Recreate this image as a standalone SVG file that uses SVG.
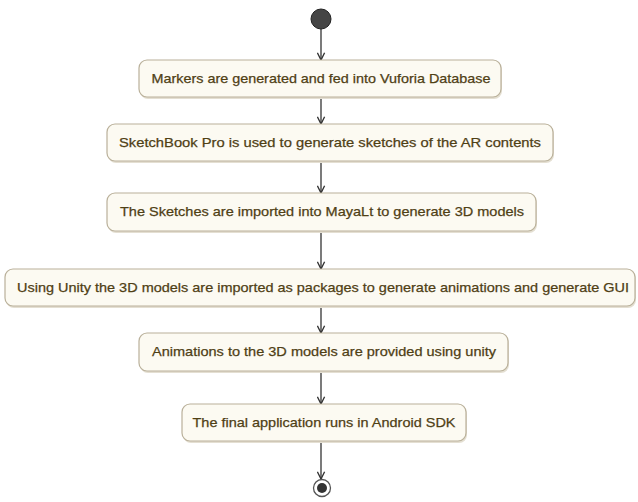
<svg xmlns="http://www.w3.org/2000/svg" width="638" height="502" viewBox="0 0 638 502">
<style>
.box{fill:#fcfaf2;stroke:#b9b09a;stroke-width:1.2}
.shadow{fill:#e4dfd2}
.lbl{font-family:"Liberation Sans",Arial,sans-serif;font-size:13.5px;fill:#4f4015;stroke:#4f4015;stroke-width:0.25;text-anchor:middle}
.edge{stroke:#333;stroke-width:1.3;fill:none;marker-end:url(#arr)}
</style>
<defs>
<marker id="arr" viewBox="0 0 10 10" refX="9" refY="5" markerWidth="9" markerHeight="9" markerUnits="userSpaceOnUse" orient="auto">
<path d="M1,1 L9,5 L1,9" fill="none" stroke="#333" stroke-width="1.5"/>
</marker>
</defs>
<rect width="638" height="502" fill="#ffffff"/>
<g id="edges">
<line class="edge" x1="321" y1="29" x2="321" y2="60"/>
<line class="edge" x1="321" y1="97" x2="321" y2="124"/>
<line class="edge" x1="321" y1="161" x2="321" y2="193"/>
<line class="edge" x1="321" y1="231" x2="321" y2="269"/>
<line class="edge" x1="321" y1="306" x2="321" y2="333"/>
<line class="edge" x1="321" y1="371" x2="321" y2="404"/>
<line class="edge" x1="321" y1="441" x2="321" y2="479"/>
</g>
<g id="start"><circle cx="321" cy="19" r="10" fill="#454545" stroke="#222" stroke-width="1"/></g>
<g id="n1"><rect class="shadow" x="140" y="62" width="362" height="37" rx="8"/><rect class="box" x="139" y="60" width="362" height="37" rx="8"/><text class="lbl" x="321" y="83" textLength="339" lengthAdjust="spacingAndGlyphs">Markers are generated and fed into Vuforia Database</text></g>
<g id="n2"><rect class="shadow" x="108" y="126" width="446" height="37" rx="8"/><rect class="box" x="107" y="124" width="446" height="37" rx="8"/><text class="lbl" x="330" y="147" textLength="422" lengthAdjust="spacingAndGlyphs">SketchBook Pro is used to generate sketches of the AR contents</text></g>
<g id="n3"><rect class="shadow" x="108" y="195" width="429" height="38" rx="8"/><rect class="box" x="107" y="193" width="429" height="38" rx="8"/><text class="lbl" x="322" y="216" textLength="404" lengthAdjust="spacingAndGlyphs">The Sketches are imported into MayaLt to generate 3D models</text></g>
<g id="n4"><rect class="shadow" x="6" y="271" width="630" height="37" rx="8"/><rect class="box" x="5" y="269" width="630" height="37" rx="8"/><text class="lbl" x="323" y="292" textLength="612" lengthAdjust="spacingAndGlyphs">Using Unity the 3D models are imported as packages to generate animations and generate GUI</text></g>
<g id="n5"><rect class="shadow" x="140" y="335" width="369" height="38" rx="8"/><rect class="box" x="139" y="333" width="369" height="38" rx="8"/><text class="lbl" x="324" y="356" textLength="344" lengthAdjust="spacingAndGlyphs">Animations to the 3D models are provided using unity</text></g>
<g id="n6"><rect class="shadow" x="183" y="406" width="284" height="37" rx="8"/><rect class="box" x="182" y="404" width="284" height="37" rx="8"/><text class="lbl" x="324" y="427" textLength="263" lengthAdjust="spacingAndGlyphs">The final application runs in Android SDK</text></g>
<g id="end"><circle cx="322" cy="488" r="8.5" fill="#fff" stroke="#555" stroke-width="1.3"/><circle cx="322" cy="488" r="5" fill="#333"/></g>
</svg>
